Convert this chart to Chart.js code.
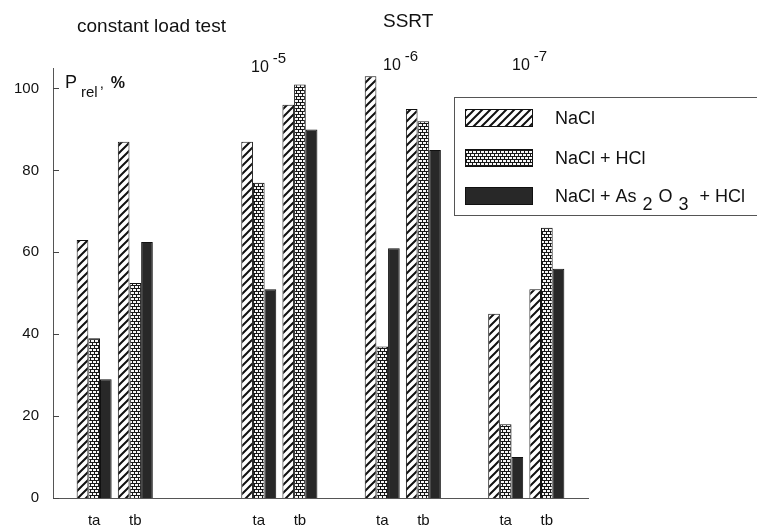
<!DOCTYPE html>
<html><head><meta charset="utf-8">
<script src="https://cdn.jsdelivr.net/npm/chart.js@4"></script>
<style>html,body{margin:0;padding:0;background:#fff}#wrap{width:757px;height:532px;position:relative}</style>
</head><body><div id="wrap"><canvas id="c"></canvas></div>
<script>
// ---- data ----
const tickLabels = ['', 'ta', 'tb', '', '', 'ta', 'tb', '', 'ta', 'tb', '', 'ta', 'tb', ''];
const naclValues = [null, 63, 87, null, null, 87, 96, null, 103, 95, null, 45, 51, null];
const naclHclValues = [null, 39, 52.5, null, null, 77, 101, null, 37, 92, null, 18, 66, null];
const naclAsHclValues = [null, 29, 62.5, null, null, 51, 90, null, 61, 85, null, 10, 56, null];
const seriesNames = ['NaCl', 'NaCl + HCl', 'NaCl + As₂O₃ + HCl'];
const yTickValues = [0, 20, 40, 60, 80, 100];
const sectionTitles = ['constant load test', 'SSRT'];
const rateLabels = [['10', '-5'], ['10', '-6'], ['10', '-7']];
const axisTitleParts = ['P', 'rel', ',', '%'];

const FONT = "'Liberation Sans', Arial, Helvetica, sans-serif";
const INK = '#111';

// ---- patterns ----
function makeTile(w, h, draw) {
  const c = document.createElement('canvas');
  c.width = w; c.height = h;
  const g = c.getContext('2d');
  draw(g, w, h);
  return c;
}
const hatchTile = makeTile(8, 8, (g, w, h) => {
  g.fillStyle = '#fff'; g.fillRect(0, 0, w, h);
  g.strokeStyle = '#111'; g.lineWidth = 2;
  g.beginPath();
  g.moveTo(-1, h + 1); g.lineTo(w + 1, -1);
  g.moveTo(-2, 2); g.lineTo(2, -2);
  g.moveTo(w - 2, h + 2); g.lineTo(w + 2, h - 2);
  g.stroke();
});
const brickTile = makeTile(8, 6, (g, w, h) => {
  g.fillStyle = '#161616'; g.fillRect(0, 0, w, h);
  g.fillStyle = '#f6f6f6';
  g.fillRect(1, 1, 3, 2); g.fillRect(5, 1, 3, 2);
  g.fillRect(3, 4, 3, 2); g.fillRect(7, 4, 1, 2); g.fillRect(0, 4, 2, 2);
});
const ctx0 = document.getElementById('c').getContext('2d');
const hatch = ctx0.createPattern(hatchTile, 'repeat');
const brick = ctx0.createPattern(brickTile, 'repeat');
const solidDark = '#282828';
const fills = [hatch, brick, solidDark];
const seriesValues = [naclValues, naclHclValues, naclAsHclValues];

// ---- annotation plugin ----
function drawRuns(ctx, x, y, runs) {
  for (const r of runs) {
    ctx.font = r.font;
    x += (r.pre || 0);
    ctx.fillText(r.t, x, y + (r.dy || 0));
    x += ctx.measureText(r.t).width + (r.post || 0);
  }
}
function labelRuns(str, size) {
  const subs = { '₂': '2', '₃': '3' };
  const runs = [];
  let buf = '';
  for (const ch of str) {
    if (subs[ch]) {
      if (buf) { runs.push({ t: buf, font: size + 'px ' + FONT }); buf = ''; }
      runs.push({ t: subs[ch], font: size + 'px ' + FONT, dy: 8, pre: 6, post: 6 });
    } else buf += ch;
  }
  if (buf) runs.push({ t: buf, font: size + 'px ' + FONT });
  return runs;
}

const annot = {
  id: 'annot',
  beforeDraw(chart) {
    const c = chart.ctx;
    c.save(); c.fillStyle = '#fff'; c.fillRect(0, 0, chart.width, chart.height); c.restore();
  },
  afterDraw(chart) {
    const c = chart.ctx;
    const y = chart.scales.y;
    const area = chart.chartArea;
    c.save();
    // inward tick marks
    c.strokeStyle = '#444'; c.lineWidth = 1;
    for (const v of yTickValues) {
      const py = Math.round(y.getPixelForValue(v)) + 0.5;
      c.beginPath(); c.moveTo(area.left, py); c.lineTo(area.left + 6, py); c.stroke();
    }
    c.fillStyle = INK;
    c.textBaseline = 'alphabetic';
    c.textAlign = 'left';
    // section titles
    c.font = '19px ' + FONT;
    c.fillText(sectionTitles[0], 77, 32);
    c.fillText(sectionTitles[1], 383, 27);
    // strain rate labels
    const ratePos = [[251, 72], [383, 70], [512, 70]];
    rateLabels.forEach((rl, i) => {
      const [px, py] = ratePos[i];
      drawRuns(c, px, py, [
        { t: rl[0], font: '16px ' + FONT, post: 4 },
        { t: rl[1], font: '15px ' + FONT, dy: -9 }
      ]);
    });
    // y axis title
    drawRuns(c, 65, 88, [
      { t: axisTitleParts[0], font: '18px ' + FONT, post: 4 },
      { t: axisTitleParts[1], font: '15px ' + FONT, dy: 9, post: 2 },
      { t: axisTitleParts[2], font: '15px ' + FONT, post: 7 },
      { t: axisTitleParts[3], font: 'bold 16px ' + FONT }
    ]);
    // legend
    c.strokeStyle = '#555'; c.lineWidth = 1;
    c.strokeRect(454.5, 97.5, 320, 118);
    const rowCenters = [118, 158, 196];
    seriesNames.forEach((name, i) => {
      const cy = rowCenters[i];
      c.fillStyle = fills[i];
      c.fillRect(465, cy - 9, 68, 18);
      c.strokeStyle = '#111';
      c.strokeRect(465.5, cy - 8.5, 67, 17);
      c.fillStyle = INK;
      drawRuns(c, 555, cy + 6, labelRuns(name, 18));
    });
    c.restore();
  }
};

new Chart(document.getElementById('c'), {
  type: 'bar',
  data: {
    labels: tickLabels,
    datasets: seriesNames.map((name, i) => ({
      label: name,
      data: seriesValues[i],
      backgroundColor: fills[i],
      borderColor: '#111',
      borderWidth: 1,
      categoryPercentage: 0.85,
      barPercentage: 1.0
    }))
  },
  options: {
    responsive: true,
    maintainAspectRatio: false,
    animation: false,
    devicePixelRatio: 1,
    layout: { padding: { left: 0, top: 68, right: 169, bottom: 0 } },
    plugins: { legend: { display: false }, tooltip: { enabled: false } },
    scales: {
      x: {
        type: 'category',
        offset: false,
        grid: { display: false, drawTicks: false },
        border: { display: true, color: '#555', width: 1 },
        ticks: { autoSkip: false, maxRotation: 0, padding: 14, color: INK, font: { family: FONT, size: 15 } },
        afterFit(s) { s.height = 34; }
      },
      y: {
        min: 0, max: 105,
        grid: { display: false, drawTicks: false },
        border: { display: true, color: '#555', width: 1 },
        ticks: { stepSize: 20, includeBounds: false, padding: 14, color: INK, font: { family: FONT, size: 15 } },
        afterBuildTicks(s) { s.ticks = yTickValues.map(v => ({ value: v })); },
        afterFit(s) { s.width = 53; }
      }
    }
  },
  plugins: [annot]
});
</script>
</body></html>
